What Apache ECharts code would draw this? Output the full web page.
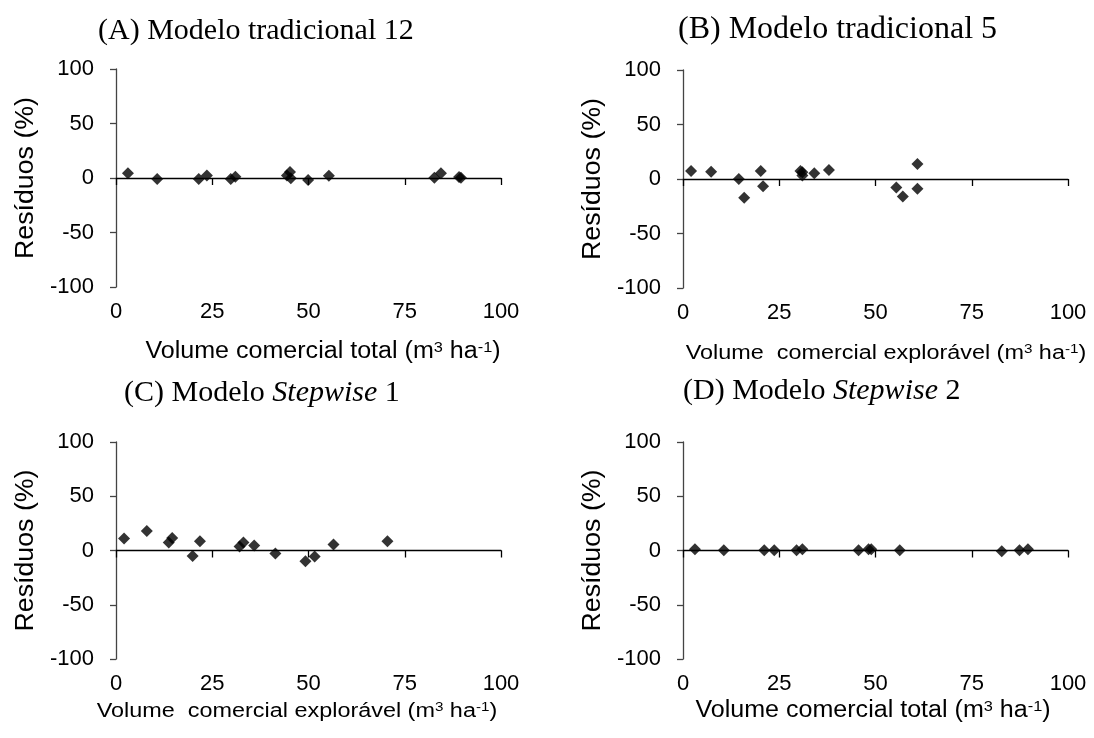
<!DOCTYPE html>
<html>
<head>
<meta charset="utf-8">
<script src="https://cdn.jsdelivr.net/npm/echarts@6/dist/echarts.min.js"></script>
<style>
  html, body { margin: 0; padding: 0; background: #fff; }
  #chart { width: 1094px; height: 738px; }
</style>
</head>
<body>
<div id="chart"></div>
<script>
// residuals (%), one pair of arrays per panel
const xA = [3.1, 10.7, 21.5, 23.6, 29.8, 31.0, 44.4, 45.2, 45.4, 49.9, 55.3, 82.7, 84.4, 89.1, 89.6];
const yA = [4.3, -0.9, -0.9, 2.4, -0.9, 1.2, 2.4, 5.5, -0.3, -1.8, 2.1, 0.3, 4.3, 0.9, 0.3];

const xB = [2.1, 7.3, 14.5, 15.9, 20.2, 20.8, 30.5, 31.0, 31.0, 34.1, 37.9, 55.4, 57.1, 60.9, 60.9];
const yB = [7.4, 6.7, 0.0, -17.2, 7.4, -6.7, 7.4, 6.1, 3.1, 5.2, 8.3, -7.7, -16.0, 13.8, -8.9];

const xC = [2.1, 8.0, 13.7, 14.6, 19.9, 21.8, 32.1, 33.1, 35.9, 41.4, 49.2, 51.6, 56.5, 70.5];
const yC = [11.0, 18.0, 7.4, 11.6, -5.0, 8.6, 3.7, 7.4, 4.6, -2.8, -9.8, -5.5, 5.5, 8.6];

const xD = [3.1, 10.6, 21.1, 23.7, 29.5, 31.0, 45.6, 48.2, 48.9, 56.3, 82.8, 87.4, 89.6];
const yD = [1.2, 0.3, 0.3, 0.3, 0.3, 1.2, 0.3, 1.2, 1.2, 0.3, -0.6, 0.3, 1.2];

const xTicks = [0, 25, 50, 75, 100];
const yTicks = [-100, -50, 0, 50, 100];

const titles = [
  "(A) Modelo tradicional 12",
  "(B) Modelo tradicional 5",
  "(C) Modelo {it|Stepwise} 1",
  "(D) Modelo {it|Stepwise} 2"
];
const xNames = [
  "Volume comercial total (m{sup|3} ha{sup|-1})",
  "Volume  comercial explorável (m{sup|3} ha{sup|-1})",
  "Volume  comercial explorável (m{sup|3} ha{sup|-1})",
  "Volume comercial total (m{sup|3} ha{sup|-1})"
];
const yName = "Resíduos (%)";

const panels = [
  { x: xA, y: yA, grid: { left: 116, top: 69, width: 385, height: 218 }, title: [98, 33, 30], xName: [323, 352], big: true },
  { x: xB, y: yB, grid: { left: 683, top: 70, width: 385, height: 218 }, title: [678, 32, 32], xName: [886, 353], big: false },
  { x: xC, y: yC, grid: { left: 116, top: 442, width: 385, height: 217 }, title: [124, 395, 30], xName: [297, 711], big: false },
  { x: xD, y: yD, grid: { left: 683, top: 442, width: 385, height: 217 }, title: [683, 393, 30], xName: [873, 711], big: true }
];

const sans = "Liberation Sans, Arial, sans-serif";
const serif = "Liberation Serif, Times New Roman, serif";

const grid = [], xAxis = [], yAxis = [], series = [], graphic = [];

panels.forEach(function (p, i) {
  grid.push(p.grid);

  // tick labels at the bottom of the plot
  xAxis.push({
    type: "value", gridIndex: i, position: "bottom",
    min: xTicks[0], max: xTicks[xTicks.length - 1], interval: 25,
    axisLine: { show: false, onZero: false },
    axisTick: { show: false },
    splitLine: { show: false },
    axisLabel: { fontSize: 22, fontFamily: sans, color: "#000", margin: 14 }
  });
  // the line itself sits on y = 0
  xAxis.push({
    type: "value", gridIndex: i, position: "bottom",
    min: xTicks[0], max: xTicks[xTicks.length - 1], interval: 25,
    axisLine: { show: true, onZero: true, lineStyle: { color: "#000", width: 1.3 } },
    axisTick: { show: true, length: 7, lineStyle: { color: "#000", width: 1.3 } },
    splitLine: { show: false },
    axisLabel: { show: false }
  });

  yAxis.push({
    type: "value", gridIndex: i,
    min: yTicks[0], max: yTicks[yTicks.length - 1], interval: 50,
    axisLine: { show: true, onZero: false, lineStyle: { color: "#444", width: 1.3 } },
    axisTick: { show: true, length: 6, lineStyle: { color: "#444", width: 1.3 } },
    splitLine: { show: false },
    axisLabel: { fontSize: 22, fontFamily: sans, color: "#000", margin: 22 }
  });

  series.push({
    type: "scatter",
    xAxisIndex: i * 2 + 1,
    yAxisIndex: i,
    symbol: "diamond",
    symbolSize: 12,
    itemStyle: { color: "#000" },
    data: p.x.map(function (v, k) { return [v, p.y[k]]; })
  });

  const ts = p.title[2];
  graphic.push({
    type: "text", left: p.title[0], top: p.title[1] - Math.round(ts * 0.57),
    style: {
      text: titles[i], fill: "#000",
      font: ts + "px " + serif,
      rich: { it: { fontStyle: "italic", fontSize: ts, fontFamily: serif, fill: "#000" } }
    }
  });

  // the source stretches its sans text sideways, hence scaleX
  const nameSize = p.big ? 23 : 20;
  graphic.push({
    type: "text", x: p.xName[0], y: p.xName[1],
    scaleX: p.big ? 1.09 : 1.17,
    style: {
      text: xNames[i], fill: "#000",
      font: nameSize + "px " + sans,
      align: "center", verticalAlign: "middle",
      rich: { sup: { fontSize: Math.round(nameSize * 0.65), fontFamily: sans, fill: "#000", verticalAlign: "top" } }
    }
  });

  graphic.push({
    type: "text",
    x: p.grid.left - 90,
    y: p.grid.top + p.grid.height / 2,
    rotation: Math.PI / 2,
    scaleX: 1.07,
    style: {
      text: yName, fill: "#000",
      font: "25px " + sans,
      align: "center", verticalAlign: "middle"
    }
  });
});

const myChart = echarts.init(document.getElementById("chart"));
myChart.setOption({
  backgroundColor: "#fff",
  animation: false,
  grid: grid,
  xAxis: xAxis,
  yAxis: yAxis,
  series: series,
  graphic: graphic
});
</script>
</body>
</html>
